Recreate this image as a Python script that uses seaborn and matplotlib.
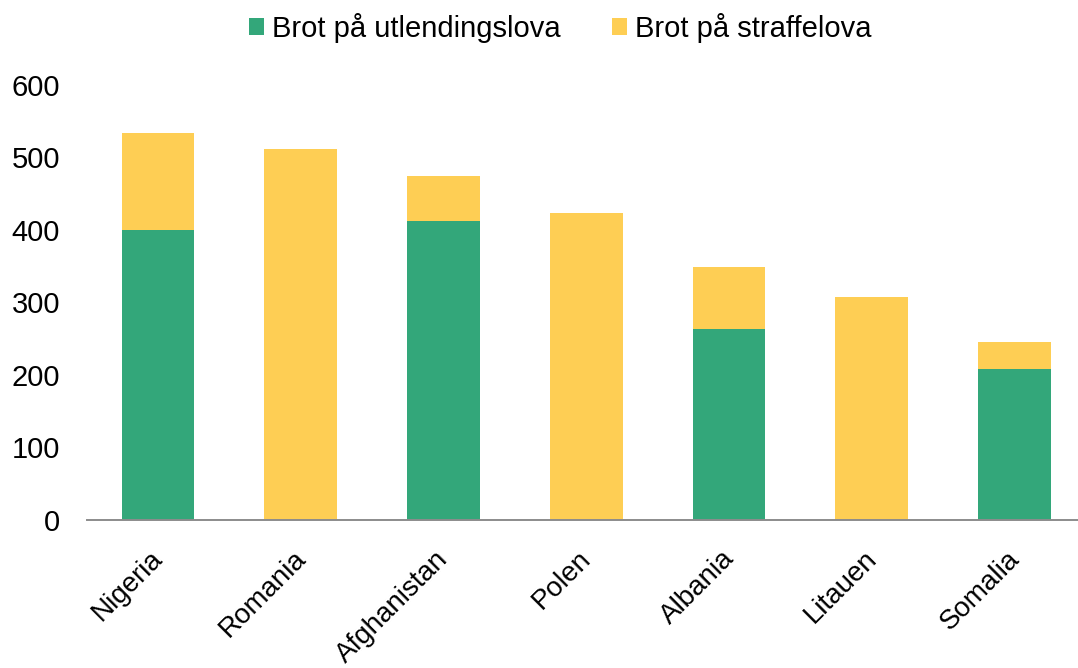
import matplotlib
matplotlib.use("Agg")
import matplotlib.pyplot as plt
import matplotlib.transforms as mtransforms
import seaborn as sns
import pandas as pd

countries = ["Nigeria", "Romania", "Afghanistan", "Polen", "Albania", "Litauen", "Somalia"]
utlendingslova = [400, 0, 413, 0, 263, 0, 208]
straffelova = [134, 511, 61, 423, 86, 308, 37]
y_ticks = [0, 100, 200, 300, 400, 500, 600]

series_names = ["Brot på utlendingslova", "Brot på straffelova"]
green = "#33A77A"
yellow = "#FECE54"

sns.set_theme(style="white")
plt.rcParams["font.family"] = ["Liberation Sans", "DejaVu Sans"]
plt.rcParams["text.color"] = "black"

df = pd.DataFrame({
    "land": countries,
    "utl": utlendingslova,
    "straff": straffelova,
})
df["total"] = df["utl"] + df["straff"]

fig = plt.figure(figsize=(10.78, 6.68), dpi=100)
# plot area runs slightly past the right edge of the figure
ax = fig.add_axes([0.0803, 0.2216, 0.927, 0.6512])

# stacked bars: total (straffelova on top) drawn first, utlendingslova over it
sns.barplot(data=df, x="land", y="total", color=yellow, width=0.51,
            saturation=1, ax=ax, label=series_names[1], linewidth=0)
sns.barplot(data=df, x="land", y="utl", color=green, width=0.51,
            saturation=1, ax=ax, label=series_names[0], linewidth=0)

ax.set_ylim(0, 600)
ax.set_xlim(-0.5, len(countries) - 0.5)
ax.set_yticks(y_ticks)
ax.set_yticklabels([str(v) for v in y_ticks], fontsize=21, color="black")
ax.set_xlabel("")
ax.set_ylabel("")
ax.tick_params(axis="y", length=0, pad=19)
ax.tick_params(axis="x", length=0, pad=10)
ax.set_xticks(range(len(countries)))
ax.set_xticklabels(countries, rotation=45, ha="right", rotation_mode="anchor",
                   fontsize=20, color="black")

# nudge the rotated category labels down and to the left
shift = mtransforms.ScaledTranslation(-0.08, -0.12, fig.dpi_scale_trans)
for lbl in ax.get_xticklabels():
    lbl.set_transform(lbl.get_transform() + shift)

for s in ["top", "right", "left"]:
    ax.spines[s].set_visible(False)
ax.spines["bottom"].set_color("#8C8C8C")
ax.spines["bottom"].set_linewidth(1.4)

handles, labels = ax.get_legend_handles_labels()
order = [labels.index(series_names[0]), labels.index(series_names[1])]
if ax.get_legend() is not None:
    ax.get_legend().remove()
fig.legend([handles[i] for i in order], [labels[i] for i in order],
           loc="center", bbox_to_anchor=(0.52, 1 - 28 / 668), ncol=2,
           frameon=False, fontsize=21, handlelength=0.5, handleheight=0.5,
           handletextpad=0.3, columnspacing=1.75)

fig.savefig("out.png", dpi=100)
